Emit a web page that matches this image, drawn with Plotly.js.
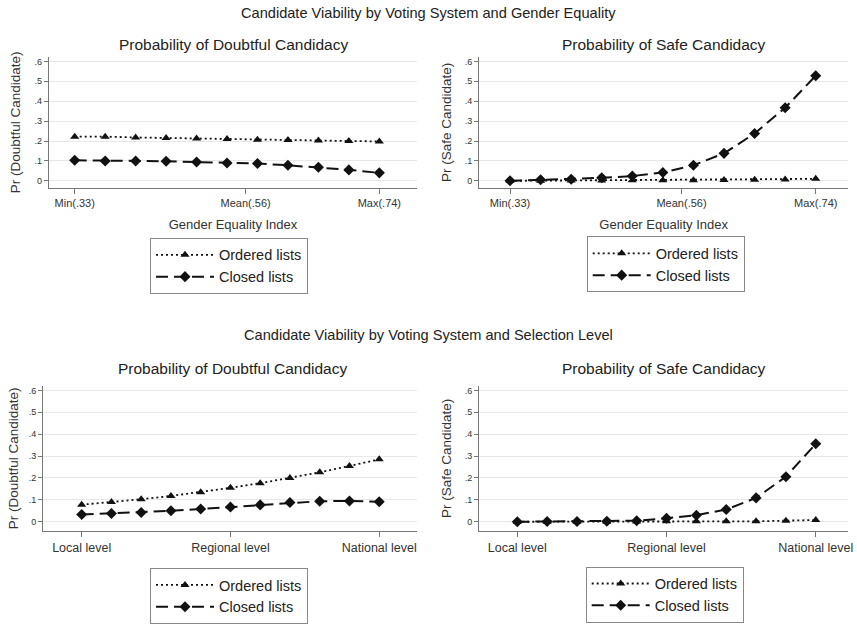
<!DOCTYPE html>
<html>
<head>
<meta charset="utf-8">
<script src="https://cdn.plot.ly/plotly-3.0.1.min.js"></script>
<style>html,body{margin:0;padding:0;background:#fff;}#chart{width:857px;height:624px;}</style>
</head>
<body>
<div id="chart"></div>
<script>
// ---- data ----
var genderIndex = [0.33, 0.371, 0.412, 0.453, 0.494, 0.535, 0.576, 0.617, 0.658, 0.699, 0.74];
var genderTickVals = [0.33, 0.56, 0.74];
var genderTickText = ["Min(.33)", "Mean(.56)", "Max(.74)"];

var levelSteps = [0, 1, 2, 3, 4, 5, 6, 7, 8, 9, 10];
var levelTickVals = [0, 5, 10];
var levelTickText = ["Local level", "Regional level", "National level"];

var yTickVals = [0, 0.1, 0.2, 0.3, 0.4, 0.5, 0.6];
var yTickText = ["0", ".1", ".2", ".3", ".4", ".5", ".6"];

var seriesNames = ["Ordered lists", "Closed lists"];

// Gender equality panels
var genderDoubtfulOrdered = [0.222, 0.222, 0.218, 0.215, 0.213, 0.210, 0.207, 0.205, 0.202, 0.200, 0.198];
var genderDoubtfulClosed  = [0.103, 0.100, 0.100, 0.098, 0.095, 0.090, 0.087, 0.078, 0.068, 0.055, 0.040];
var genderSafeOrdered     = [0.000, 0.001, 0.002, 0.002, 0.003, 0.003, 0.003, 0.004, 0.005, 0.007, 0.010];
var genderSafeClosed      = [0.000, 0.005, 0.008, 0.015, 0.024, 0.042, 0.078, 0.138, 0.238, 0.367, 0.528];

// Selection level panels
var levelDoubtfulOrdered = [0.078, 0.090, 0.103, 0.118, 0.135, 0.155, 0.176, 0.200, 0.226, 0.255, 0.285];
var levelDoubtfulClosed  = [0.033, 0.038, 0.042, 0.050, 0.058, 0.067, 0.077, 0.088, 0.094, 0.095, 0.091];
var levelSafeOrdered     = [0.000, 0.000, 0.000, 0.000, 0.001, 0.002, 0.002, 0.002, 0.002, 0.005, 0.008];
var levelSafeClosed      = [0.000, 0.001, 0.001, 0.002, 0.005, 0.016, 0.030, 0.056, 0.109, 0.206, 0.356];

// ---- styling ----
var FONT = "Liberation Sans, Arial, sans-serif";
var INK = "#111";

function orderedTrace(x, y, xa, ya, leg) {
  return {
    type: "scatter", mode: "lines+markers", x: x, y: y, xaxis: xa, yaxis: ya,
    name: seriesNames[0], legend: leg, legendgroup: leg + "o",
    line: {color: INK, width: 1.8, dash: "2px,3px"},
    marker: {symbol: "triangle-up", size: 8, color: INK}
  };
}
function closedTrace(x, y, xa, ya, leg) {
  return {
    type: "scatter", mode: "lines+markers", x: x, y: y, xaxis: xa, yaxis: ya,
    name: seriesNames[1], legend: leg, legendgroup: leg + "c",
    line: {color: INK, width: 2, dash: "12px,6px"},
    marker: {symbol: "diamond", size: 8.5, color: INK}
  };
}

var data = [
  orderedTrace(genderIndex, genderDoubtfulOrdered, "x", "y", "legend"),
  closedTrace(genderIndex, genderDoubtfulClosed, "x", "y", "legend"),
  orderedTrace(genderIndex, genderSafeOrdered, "x2", "y2", "legend2"),
  closedTrace(genderIndex, genderSafeClosed, "x2", "y2", "legend2"),
  orderedTrace(levelSteps, levelDoubtfulOrdered, "x3", "y3", "legend3"),
  closedTrace(levelSteps, levelDoubtfulClosed, "x3", "y3", "legend3"),
  orderedTrace(levelSteps, levelSafeOrdered, "x4", "y4", "legend4"),
  closedTrace(levelSteps, levelSafeClosed, "x4", "y4", "legend4")
];

function xAxis(domain, range, anchor, tv, tt, tsize, title) {
  var ax = {
    domain: domain, range: range, anchor: anchor,
    showgrid: false, zeroline: false,
    showline: true, linecolor: "#777", linewidth: 1.2,
    ticks: "outside", ticklen: 5, tickcolor: "#777", tickwidth: 1,
    tickmode: "array", tickvals: tv, ticktext: tt,
    tickfont: {family: FONT, size: tsize, color: "#333"},
    fixedrange: true
  };
  if (title) {
    ax.title = {text: title, font: {family: FONT, size: 13, color: "#333"}, standoff: 11};
  }
  return ax;
}
function yAxis(domain, range, anchor, title, standoff) {
  return {
    domain: domain, range: range, anchor: anchor,
    showgrid: true, gridcolor: "#e8e8e8", gridwidth: 1,
    zeroline: false,
    showline: true, linecolor: "#777", linewidth: 1.2,
    ticks: "outside", ticklen: 4, tickcolor: "#777", tickwidth: 1,
    tickmode: "array", tickvals: yTickVals, ticktext: yTickText,
    tickfont: {family: FONT, size: 9, color: "#333"},
    title: {text: title, font: {family: FONT, size: 13.5, color: "#333"}, standoff: standoff},
    fixedrange: true
  };
}

var topDom = [1 - 189 / 624, 1 - 57 / 624];
var botDom = [1 - 533.3 / 624, 1 - 388 / 624];

function legendBox(x, y) {
  return {
    x: x, y: y, xanchor: "left", yanchor: "top",
    bgcolor: "#fff", bordercolor: "#888", borderwidth: 1,
    font: {family: FONT, size: 14.5, color: "#222"},
    itemwidth: 58, tracegroupgap: 4, traceorder: "normal"
  };
}

function ann(text, x, y, size) {
  return {text: text, x: x, y: y, xref: "paper", yref: "paper",
          xanchor: "center", yanchor: "middle", showarrow: false,
          font: {family: FONT, size: size, color: "#222"}};
}

var layout = {
  width: 857, height: 624,
  margin: {l: 0, r: 0, t: 0, b: 0},
  paper_bgcolor: "#fff", plot_bgcolor: "#fff",
  showlegend: true,
  xaxis:  xAxis([49 / 857, 417 / 857], [0.2954, 0.7907], "y", genderTickVals, genderTickText, 11, "Gender Equality Index"),
  yaxis:  yAxis(topDom, [-0.0365, 0.6235], "x", "Pr (Doubtful Candidate)", 10),
  xaxis2: xAxis([479.3 / 857, 848 / 857], [0.2888, 0.7833], "y2", genderTickVals, genderTickText, 11, "Gender Equality Index"),
  yaxis2: yAxis(topDom, [-0.0365, 0.6235], "x2", "Pr (Safe Candidate)", 10),
  xaxis3: xAxis([43.3 / 857, 416.7 / 857], [-1.29, 11.26], "y3", levelTickVals, levelTickText, 12.5, null),
  yaxis3: yAxis(botDom, [-0.041, 0.6195], "x3", "Pr (Doubtful Candidate)", 7),
  xaxis4: xAxis([479.3 / 857, 848 / 857], [-1.273, 11.08], "y4", levelTickVals, levelTickText, 12.5, null),
  yaxis4: yAxis(botDom, [-0.041, 0.6195], "x4", "Pr (Safe Candidate)", 10),
  legend:  legendBox(150 / 857, 1 - 239 / 624),
  legend2: legendBox(586.7 / 857, 1 - 237.5 / 624),
  legend3: legendBox(150 / 857, 1 - 571 / 624),
  legend4: legendBox(585.7 / 857, 1 - 569.3 / 624),
  annotations: [
    ann("Candidate Viability by Voting System and Gender Equality", 428 / 857, 1 - 13 / 624, 14.6),
    ann("Probability of Doubtful Candidacy", 233 / 857, 1 - 45 / 624, 15.5),
    ann("Probability of Safe Candidacy", 663.5 / 857, 1 - 45 / 624, 15.5),
    ann("Candidate Viability by Voting System and Selection Level", 428 / 857, 1 - 337 / 624, 14.6),
    ann("Probability of Doubtful Candidacy", 232 / 857, 1 - 370 / 624, 15.5),
    ann("Probability of Safe Candidacy", 663.5 / 857, 1 - 370 / 624, 15.5)
  ]
};

Plotly.newPlot("chart", data, layout, {displayModeBar: false, staticPlot: true});
</script>
</body>
</html>
